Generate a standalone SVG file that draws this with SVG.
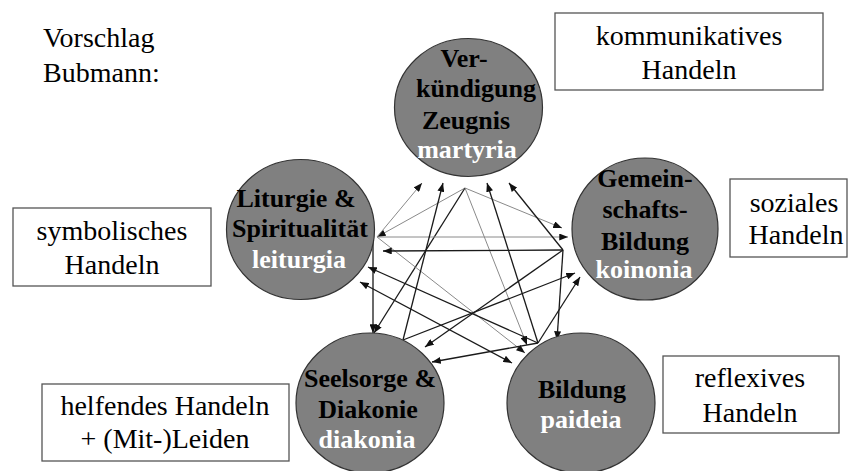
<svg xmlns="http://www.w3.org/2000/svg" width="849" height="471" viewBox="0 0 849 471">
<defs>
<marker id="ad" viewBox="0 0 10 8" refX="10" refY="4" markerWidth="9" markerHeight="7" markerUnits="userSpaceOnUse" orient="auto"><path d="M0,0 L10,4 L0,8 z" fill="#111"/></marker>
<marker id="as" viewBox="0 0 10 8" refX="0" refY="4" markerWidth="9" markerHeight="7" markerUnits="userSpaceOnUse" orient="auto"><path d="M10,0 L0,4 L10,8 z" fill="#111"/></marker>
</defs>
<style>
.c{fill:#808080;stroke:#333;stroke-width:1.2}
.b{fill:#fff;stroke:#555;stroke-width:1.3}
.t{font-size:28px;fill:#000;text-anchor:middle}
.n{font-size:26px;font-weight:bold;fill:#000;text-anchor:middle}
.w{fill:#fff}
.d{stroke:#1a1a1a;stroke-width:1.3;fill:none;marker-end:url(#ad)}
.g{stroke:#8a8a8a;stroke-width:1;fill:none;marker-end:url(#ad)}
</style>
<rect width="849" height="471" fill="#fff"/>
<g font-family="Liberation Serif, DejaVu Serif, serif">
<text class="t" x="43" y="47" text-anchor="start" style="text-anchor:start">Vorschlag</text>
<text class="t" x="43" y="82" text-anchor="start" style="text-anchor:start">Bubmann:</text>

<g id="connectors">
<line class="g" x1="465" y1="188" x2="377" y2="237"/>
<line class="g" x1="465" y1="188" x2="562" y2="228"/>
<line class="d" x1="465" y1="188" x2="374" y2="333"/>
<line class="g" x1="465" y1="188" x2="527" y2="345"/>
<line class="g" x1="377" y1="237" x2="422" y2="183"/>
<line class="g" x1="377" y1="237" x2="568" y2="237"/>
<line class="d" x1="373" y1="240" x2="373" y2="333"/>
<line class="g" x1="377" y1="237" x2="525" y2="353"/>
<line class="d" x1="563" y1="250" x2="509" y2="183"/>
<line class="d" x1="563" y1="250" x2="383" y2="251"/>
<line class="d" x1="563" y1="250" x2="425" y2="347"/>
<line class="d" x1="563" y1="250" x2="557" y2="340"/>
<line class="d" x1="403" y1="340" x2="443" y2="183"/>
<line class="d" x1="403" y1="340" x2="575" y2="273"/>
<line class="d" x1="360" y1="282" x2="512" y2="363" style="marker-start:url(#as)"/>
<line class="d" x1="538" y1="343" x2="487" y2="183"/>
<line class="d" x1="538" y1="343" x2="368" y2="267"/>
<line class="d" x1="538" y1="343" x2="580" y2="277"/>
<line class="d" x1="538" y1="343" x2="432" y2="362"/>
</g>

<g id="n-verkuendigung">
<ellipse class="c" cx="468.5" cy="107.5" rx="74" ry="69"/>
<text class="n" x="464" y="67">Ver-</text>
<text class="n" x="476" y="97">kündigung</text>
<text class="n" x="466" y="129">Zeugnis</text>
<text class="n w" x="467" y="158">martyria</text>
</g>
<g id="n-liturgie">
<ellipse class="c" cx="300.5" cy="229.5" rx="74" ry="70"/>
<text class="n" x="296" y="207">Liturgie &amp;</text>
<text class="n" x="300" y="237">Spiritualität</text>
<text class="n w" x="299" y="268">leiturgia</text>
</g>
<g id="n-gemeinschaft">
<ellipse class="c" cx="645" cy="229" rx="73" ry="71"/>
<text class="n" x="645" y="187">Gemein-</text>
<text class="n" x="645" y="218">schafts-</text>
<text class="n" x="645" y="250">Bildung</text>
<text class="n w" x="644" y="278">koinonia</text>
</g>
<g id="n-seelsorge">
<ellipse class="c" cx="370" cy="403" rx="74" ry="70"/>
<text class="n" x="370" y="387">Seelsorge &amp;</text>
<text class="n" x="368" y="418">Diakonie</text>
<text class="n w" x="367" y="448">diakonia</text>
</g>
<g id="n-bildung">
<ellipse class="c" cx="581" cy="403" rx="74" ry="70"/>
<text class="n" x="582" y="398">Bildung</text>
<text class="n w" x="581" y="428">paideia</text>
</g>

<g id="b-kommunikativ">
<rect class="b" x="555" y="13" width="268" height="77"/>
<text class="t" x="689" y="45">kommunikatives</text>
<text class="t" x="689" y="79">Handeln</text>
</g>
<g id="b-symbolisch">
<rect class="b" x="13" y="208" width="198" height="78"/>
<text class="t" x="112" y="240">symbolisches</text>
<text class="t" x="112" y="274">Handeln</text>
</g>
<g id="b-sozial">
<rect class="b" x="730" y="179" width="117" height="78"/>
<text class="t" x="794" y="212">soziales</text>
<text class="t" x="796" y="244">Handeln</text>
</g>
<g id="b-helfend">
<rect class="b" x="42" y="384" width="247" height="77"/>
<text class="t" x="165" y="415">helfendes Handeln</text>
<text class="t" x="165" y="448">+ (Mit-)Leiden</text>
</g>
<g id="b-reflexiv">
<rect class="b" x="663" y="356" width="176" height="77"/>
<text class="t" x="750" y="387">reflexives</text>
<text class="t" x="750" y="422">Handeln</text>
</g>
</g>
</svg>
